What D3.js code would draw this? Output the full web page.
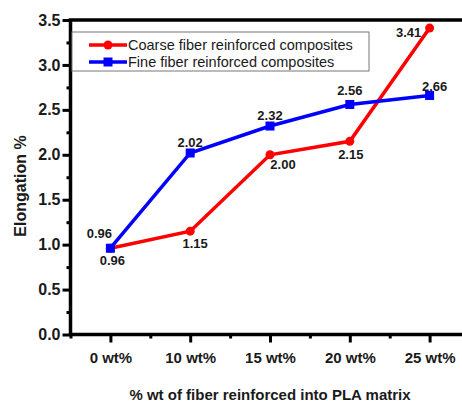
<!DOCTYPE html>
<html>
<head>
<meta charset="utf-8">
<script src="https://cdn.jsdelivr.net/npm/d3@7"></script>
<style>
  body { margin: 0; background: #fff; }
  svg { display: block; font-family: Arial, "Liberation Sans", sans-serif; }
</style>
</head>
<body>
<div id="chart"></div>
<script>
const categories = ["0 wt%", "10 wt%", "15 wt%", "20 wt%", "25 wt%"];
const coarseValues = [0.96, 1.15, 2.00, 2.15, 3.41];
const fineValues = [0.96, 2.02, 2.32, 2.56, 2.66];
const yTicks = [0, 0.5, 1.0, 1.5, 2.0, 2.5, 3.0, 3.5];
const seriesNames = ["Coarse fiber reinforced composites", "Fine fiber reinforced composites"];

// label nudges (px) for the value annotations
const coarseLabelOffset = [[2, 12], [5, 12], [13, 10], [1, 13.5], [-21, 4]];
const fineLabelOffset = [[-11, -14.5], [0, -10], [0, -11], [0, -13.5], [5, -9]];

const W = 462, H = 403;
const svg = d3.select("#chart").append("svg")
  .attr("width", W).attr("height", H);

const x = d3.scaleLinear().domain([-0.5, 4.5]).range([70.5, 469.5]);
const y = d3.scaleLinear().domain([0, 3.5]).range([334.5, 20]);

// frame (right side runs off the picture)
svg.append("rect")
  .attr("x", x(-0.5)).attr("y", y(3.5))
  .attr("width", x(4.5) - x(-0.5)).attr("height", y(0) - y(3.5))
  .attr("fill", "none").attr("stroke", "#000").attr("stroke-width", 3.5);

// x axis
const xAxis = svg.append("g").attr("transform", `translate(0,${y(0)})`)
  .call(d3.axisBottom(x).tickValues(d3.range(categories.length))
    .tickFormat(i => categories[i]).tickSize(8).tickPadding(10).tickSizeOuter(0));
svg.append("g").attr("transform", `translate(0,${y(0)})`)
  .call(d3.axisBottom(x).tickValues([-0.5, 0.5, 1.5, 2.5, 3.5]).tickFormat("").tickSize(4).tickSizeOuter(0))
  .call(g => g.select(".domain").remove());

// y axis
const yAxis = svg.append("g").attr("transform", `translate(${x(-0.5)},0)`)
  .call(d3.axisLeft(y).tickValues(yTicks).tickFormat(d3.format(".1f")).tickSize(8).tickPadding(2).tickSizeOuter(0));
svg.append("g").attr("transform", `translate(${x(-0.5)},0)`)
  .call(d3.axisLeft(y).tickValues(d3.range(0.25, 3.5, 0.5)).tickFormat("").tickSize(4).tickSizeOuter(0))
  .call(g => g.select(".domain").remove());

svg.selectAll(".domain").attr("stroke-width", 0);
svg.selectAll(".tick line").attr("stroke", "#000").attr("stroke-width", 3);
svg.selectAll(".tick text")
  .attr("fill", "#1a1a1a").attr("font-weight", "bold")
  .attr("font-family", "Arial, 'Liberation Sans', sans-serif");
xAxis.selectAll(".tick text").attr("font-size", 15);
yAxis.selectAll(".tick text").attr("font-size", 16);

// axis titles
svg.append("text")
  .attr("x", 270).attr("y", 400)
  .attr("text-anchor", "middle")
  .attr("font-size", 15).attr("font-weight", "bold").attr("fill", "#1a1a1a")
  .text("% wt of fiber reinforced into PLA matrix");
svg.append("text")
  .attr("transform", "translate(26,186) rotate(-90)")
  .attr("text-anchor", "middle")
  .attr("font-size", 16).attr("font-weight", "bold").attr("fill", "#1a1a1a")
  .text("Elongation %");

const line = d3.line().x((d, i) => x(i)).y(d => y(d));

// coarse series
svg.append("path").datum(coarseValues)
  .attr("d", line).attr("fill", "none")
  .attr("stroke", "#ff0000").attr("stroke-width", 3.5);
svg.selectAll(".coarse-pt").data(coarseValues).join("circle")
  .attr("class", "coarse-pt")
  .attr("cx", (d, i) => x(i)).attr("cy", d => y(d)).attr("r", 4.5)
  .attr("fill", "#ff0000");

// fine series
svg.append("path").datum(fineValues)
  .attr("d", line).attr("fill", "none")
  .attr("stroke", "#0000ff").attr("stroke-width", 3.5);
svg.selectAll(".fine-pt").data(fineValues).join("rect")
  .attr("class", "fine-pt")
  .attr("x", (d, i) => x(i) - 4.5).attr("y", d => y(d) - 4.5)
  .attr("width", 9).attr("height", 9)
  .attr("fill", "#0000ff");

// value labels
function addLabels(values, offsets) {
  svg.append("g").selectAll("text").data(values).join("text")
    .attr("x", (d, i) => x(i) + offsets[i][0])
    .attr("y", (d, i) => y(d) + offsets[i][1])
    .attr("text-anchor", "middle").attr("dominant-baseline", "central")
    .attr("font-size", 13).attr("font-weight", "bold").attr("fill", "#1a1a1a")
    .text(d => d.toFixed(2));
}
addLabels(coarseValues, coarseLabelOffset);
addLabels(fineValues, fineLabelOffset);

// legend
const legend = svg.append("g");
legend.append("rect")
  .attr("x", 72).attr("y", 32).attr("width", 297).attr("height", 39)
  .attr("fill", "#fff").attr("stroke", "#777").attr("stroke-width", 1);
const legendColors = ["#ff0000", "#0000ff"];
seriesNames.forEach((name, i) => {
  const ly = 45 + i * 17;
  legend.append("line")
    .attr("x1", 89).attr("x2", 127).attr("y1", ly).attr("y2", ly)
    .attr("stroke", legendColors[i]).attr("stroke-width", 3.5);
  if (i === 0) {
    legend.append("circle").attr("cx", 108).attr("cy", ly).attr("r", 4.5).attr("fill", legendColors[i]);
  } else {
    legend.append("rect").attr("x", 103.5).attr("y", ly - 4.5).attr("width", 9).attr("height", 9).attr("fill", legendColors[i]);
  }
  legend.append("text")
    .attr("x", 128).attr("y", ly).attr("dominant-baseline", "central")
    .attr("font-size", 14.5).attr("fill", "#1a1a1a")
    .text(name);
});
</script>
</body>
</html>
